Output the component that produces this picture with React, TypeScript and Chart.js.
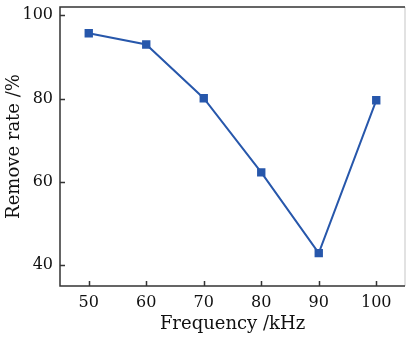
import React, { useEffect, useRef } from "react";
import { Chart, registerables } from "chart.js";

Chart.register(...registerables);

const frequencies = [50, 60, 70, 80, 90, 100];
const removeRate = [95.7, 93.0, 80.1, 62.3, 42.9, 79.6];
const xTicks = [50, 60, 70, 80, 90, 100];
const yTicks = [40, 60, 80, 100];

const FONT = "'DejaVu Serif', 'Liberation Serif', serif";
const AXIS_COLOR = "#333333";

const frameTicks = {
  id: "frameTicks",
  afterDraw(chart: any) {
    const { ctx, chartArea } = chart;
    const { left, right, top, bottom } = chartArea;
    ctx.save();
    ctx.lineWidth = 1.5;
    ctx.strokeStyle = "#d8d8d8";
    ctx.beginPath();
    ctx.moveTo(right, top);
    ctx.lineTo(right, bottom);
    ctx.stroke();
    ctx.strokeStyle = AXIS_COLOR;
    ctx.beginPath();
    ctx.moveTo(right, top);
    ctx.lineTo(left, top);
    ctx.lineTo(left, bottom);
    ctx.lineTo(right, bottom);
    const xs = chart.scales.x;
    const ys = chart.scales.y;
    xTicks.forEach((v) => {
      const px = Math.round(xs.getPixelForValue(v)) + 0.5;
      ctx.moveTo(px, bottom);
      ctx.lineTo(px, bottom - 5);
    });
    yTicks.forEach((v) => {
      const py = Math.round(ys.getPixelForValue(v)) + 0.5;
      ctx.moveTo(left, py);
      ctx.lineTo(left + 5, py);
    });
    ctx.stroke();
    ctx.restore();
  },
};

export default function App() {
  const ref = useRef<HTMLCanvasElement>(null);
  useEffect(() => {
    if (!ref.current) return;
    const chart = new Chart(ref.current, {
      type: "line",
      data: {
        datasets: [
          {
            data: frequencies.map((f, i) => ({ x: f, y: removeRate[i] })),
            borderColor: "#2757ab",
            backgroundColor: "#2757ab",
            borderWidth: 2,
            pointStyle: "rect",
            pointRadius: 4.5,
            pointHoverRadius: 4.5,
            tension: 0,
          },
        ],
      },
      options: {
        animation: false,
        responsive: false,
        maintainAspectRatio: false,
        layout: { autoPadding: false, padding: { top: 7, right: 2, left: 0, bottom: 0 } },
        plugins: { legend: { display: false }, tooltip: { enabled: false } },
        scales: {
          x: {
            type: "linear",
            min: 45,
            max: 105,
            afterBuildTicks: (s: any) => {
              s.ticks = xTicks.map((v) => ({ value: v }));
            },
            afterFit: (s: any) => {
              s.height = 51;
              s.paddingLeft = 0;
              s.paddingRight = 0;
            },
            grid: { display: false, drawTicks: false },
            border: { display: false },
            ticks: { color: "#111", font: { family: FONT, size: 16 }, padding: 7, maxRotation: 0 },
            title: {
              display: true,
              text: "Frequency /kHz",
              color: "#111",
              font: { family: FONT, size: 18 },
              padding: { top: 0, bottom: 2 },
            },
          },
          y: {
            type: "linear",
            min: 35,
            max: 102,
            afterBuildTicks: (s: any) => {
              s.ticks = yTicks.map((v) => ({ value: v }));
            },
            afterFit: (s: any) => {
              s.width = 60;
              s.paddingTop = 0;
              s.paddingBottom = 0;
            },
            grid: { display: false, drawTicks: false },
            border: { display: false },
            ticks: { color: "#111", font: { family: FONT, size: 16 }, padding: 7 },
            title: {
              display: true,
              text: "Remove rate /%",
              color: "#111",
              font: { family: FONT, size: 18 },
              padding: { top: 4, bottom: 0 },
            },
          },
        },
      },
      plugins: [frameTicks],
    });
    return () => chart.destroy();
  }, []);
  return (
    <div style={{ position: "fixed", left: 0, top: 0, width: 407, height: 337, background: "#fff" }}>
      <canvas ref={ref} width={407} height={337} style={{ width: 407, height: 337 }} />
    </div>
  );
}
